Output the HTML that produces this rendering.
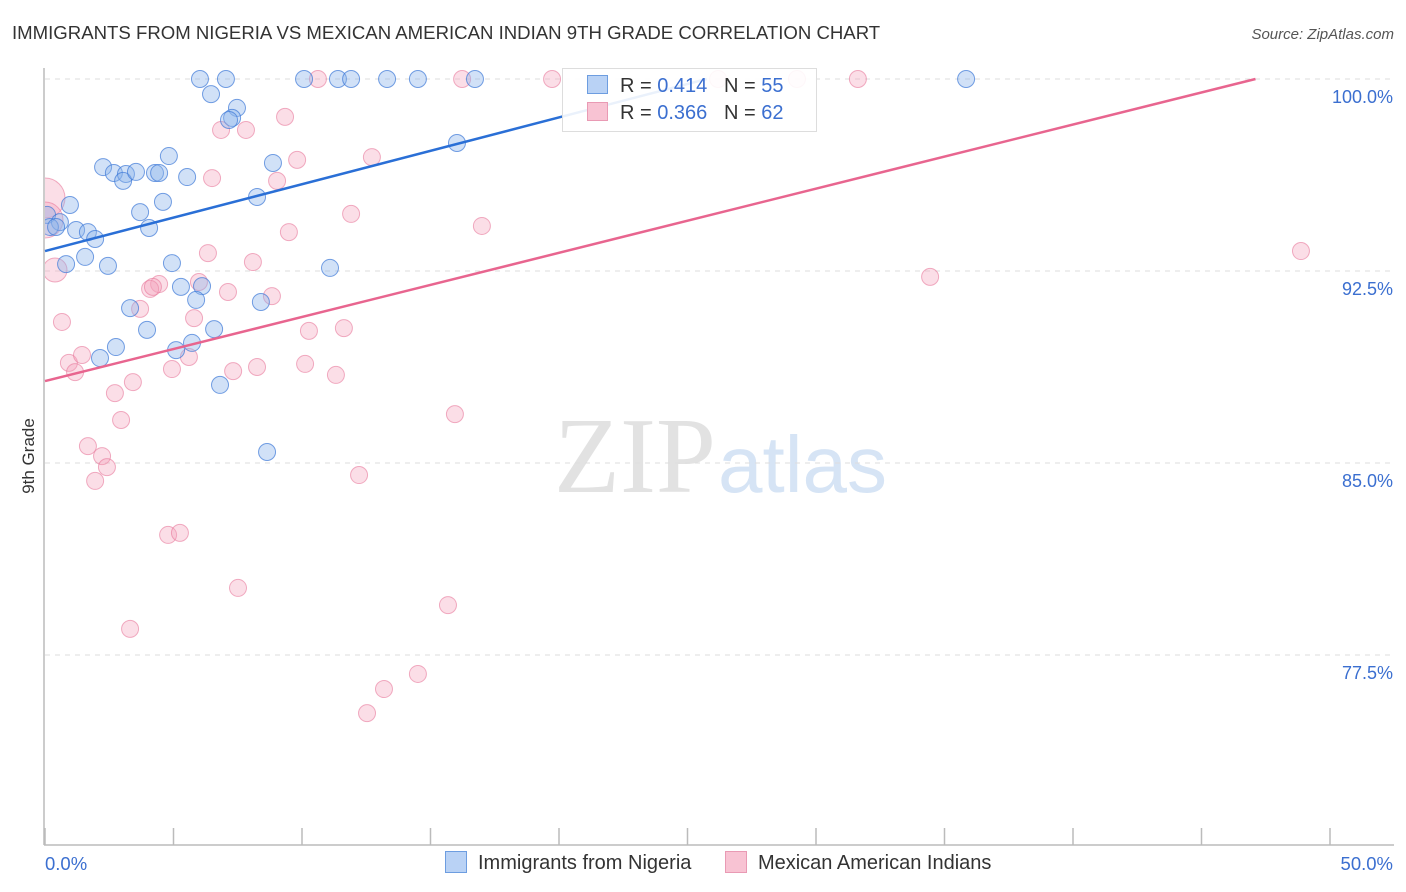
<!DOCTYPE html>
<html><head><meta charset="utf-8">
<style>
body{margin:0;background:#fff;font-family:"Liberation Sans",sans-serif;}
#c{position:relative;width:1406px;height:892px;overflow:hidden;}
</style></head>
<body>
<div id="c">
<svg id="s" width="1406" height="892" xmlns="http://www.w3.org/2000/svg">
<text x="12" y="39" font-size="18.6" fill="#333">IMMIGRANTS FROM NIGERIA VS MEXICAN AMERICAN INDIAN 9TH GRADE CORRELATION CHART</text>
<text x="1394" y="39" font-size="15" fill="#555" font-style="italic" text-anchor="end">Source: ZipAtlas.com</text>
<text x="716" y="492" font-size="108" fill="#e2e2e2" text-anchor="end" font-family="Liberation Serif">ZIP</text>
<text x="718" y="492" font-size="80" fill="#d6e4f5">atlas</text>
<text transform="translate(34,456) rotate(-90)" font-size="17" fill="#333" text-anchor="middle">9th Grade</text>
<g id="grid"></g>
<svg x="45" y="0" width="1361" height="845" viewBox="45 0 1361 845" overflow="hidden"><g id="pts"></g></svg>
<g id="lines"></g>
</svg>
</div>
<script>
const yTicks=[100,92.5,85,77.5];
const yTickLabels=["100.0%","92.5%","85.0%","77.5%"];
const nigX=[6.03,7.04,10.08,11.40,11.91,13.31,14.51,16.73,35.84,6.46,7.47,7.28,7.16,4.82,2.26,2.68,3.15,3.04,3.54,4.28,4.44,5.53,8.87,16.03,8.25,3.70,4.59,0.97,0.08,0.58,0.19,0.43,1.21,1.67,1.95,4.05,0.82,1.56,2.45,4.94,11.09,5.29,6.11,5.88,3.31,8.40,3.97,6.58,2.76,2.14,5.10,5.72,6.81,8.64];
const nigY=[100,100,100,100,100,100,100,100,100,99.41,98.87,98.48,98.40,96.99,96.56,96.33,96.29,96.02,96.37,96.33,96.33,96.17,96.72,97.50,95.39,94.80,95.20,95.08,94.69,94.41,94.22,94.22,94.10,94.02,93.75,94.18,92.77,93.05,92.70,92.81,92.62,91.88,91.91,91.37,91.05,91.29,90.20,90.23,89.53,89.10,89.41,89.69,88.05,85.43];
const mexX=[0,0,0.39,10.62,16.23,19.73,26.19,29.26,31.63,9.34,6.85,7.82,12.72,9.81,6.50,9.03,11.91,9.49,17.00,6.34,8.09,34.44,48.87,4.44,4.09,4.20,5.99,7.12,8.83,5.80,3.70,0.66,10.27,11.63,0.93,1.44,1.17,4.94,5.60,7.32,8.25,10.12,11.32,3.42,2.72,15.95,2.96,1.67,2.22,2.41,1.95,12.22,4.79,5.25,7.51,3.31,15.68,14.51,13.19,12.53];
const mexY=[95.35,94.49,92.54,100,100,100,100,100,100,98.52,98.01,98.01,96.95,96.84,96.13,96.02,94.73,94.02,94.26,93.20,92.85,92.27,93.28,91.99,91.80,91.88,92.07,91.68,91.52,90.66,91.02,90.51,90.16,90.27,88.91,89.22,88.55,88.67,89.14,88.59,88.75,88.87,88.44,88.16,87.73,86.91,86.68,85.66,85.27,84.84,84.30,84.53,82.19,82.27,80.12,78.52,79.45,76.76,76.17,75.23];
const mexR=[20,18,12];
const nigTrend=[[0,93.28],[20,98.5]];
const mexTrend=[[0,88.2],[47.1,100]];
const ns="http://www.w3.org/2000/svg";
const X=v=>45+v*25.7, Y=v=>79+(100-v)*25.6;
function mk(t,a,p){const e=document.createElementNS(ns,t);for(const k in a)e.setAttribute(k,a[k]);document.getElementById(p).appendChild(e);return e;}
let e=mk('line',{x1:44,y1:68,x2:44,y2:845,stroke:'#bbb','stroke-width':1.5},'grid');

e=mk('line',{x1:44,y1:845,x2:1394,y2:845,stroke:'#bbb','stroke-width':1.5},'grid');

for(let i=0;i<=10;i++){e=mk('line',{x1:X(i*5),x2:X(i*5),y1:828,y2:845,stroke:'#bbb','stroke-width':1.5},'grid');
}
yTicks.forEach((t,i)=>{e=mk('line',{x1:45,x2:1394,y1:Y(t),y2:Y(t),stroke:'#ddd','stroke-dasharray':'5,5'},'grid');

e=mk('text',{x:1393,y:Y(t)+24,'font-size':18,fill:'#3b6fd0','text-anchor':'end'},'grid');e.textContent=yTickLabels[i];
});
e=mk('text',{x:45,y:870,'font-size':18.5,fill:'#3b6fd0'},'grid');e.textContent='0.0%';

e=mk('text',{x:1393,y:870,'font-size':18.5,fill:'#3b6fd0','text-anchor':'end'},'grid');e.textContent='50.0%';

mexX.forEach((x,i)=>{e=mk('circle',{cx:X(x),cy:Y(mexY[i]),r:mexR[i]||8.5,fill:'rgba(244,160,185,0.35)',stroke:'rgba(232,120,155,0.6)','stroke-width':1},'pts');
});
nigX.forEach((x,i)=>{e=mk('circle',{cx:X(x),cy:Y(nigY[i]),r:8.5,fill:'rgba(140,180,235,0.4)',stroke:'rgba(60,120,215,0.7)','stroke-width':1},'pts');
});
const nm=(nigTrend[1][1]-nigTrend[0][1])/(nigTrend[1][0]-nigTrend[0][0]);
const nEnd=(100-nigTrend[0][1])/nm;
e=mk('line',{x1:X(0),y1:Y(nigTrend[0][1]),x2:X(nEnd),y2:Y(100),stroke:'#2a6fd6','stroke-width':2.5},'lines');

e=mk('line',{x1:X(mexTrend[0][0]),y1:Y(mexTrend[0][1]),x2:X(mexTrend[1][0]),y2:Y(mexTrend[1][1]),stroke:'#e8658f','stroke-width':2.5},'lines');

</script>
<div style="position:absolute;left:562px;top:68px;width:253px;height:62px;background:rgba(255,255,255,0.9);border:1px solid #ddd;font-size:20px;color:#333;">
 <div style="position:absolute;left:24px;top:6px;white-space:nowrap;"><span style="display:inline-block;width:19px;height:17px;background:#b9d2f5;border:1px solid #6d9de0;vertical-align:-2px;margin-right:12px"></span>R = <span style="color:#3b6fd0">0.414</span>&nbsp;&nbsp;&nbsp;N = <span style="color:#3b6fd0">55</span></div>
 <div style="position:absolute;left:24px;top:33px;white-space:nowrap;"><span style="display:inline-block;width:19px;height:17px;background:#f8c3d3;border:1px solid #e99ab4;vertical-align:-2px;margin-right:12px"></span>R = <span style="color:#3b6fd0">0.366</span>&nbsp;&nbsp;&nbsp;N = <span style="color:#3b6fd0">62</span></div>
</div>
<div style="position:absolute;left:445px;top:851px;font-size:20px;color:#333;white-space:nowrap;">
 <span><span style="display:inline-block;width:20px;height:20px;background:#b9d2f5;border:1px solid #6d9de0;vertical-align:-4px;margin-right:11px"></span>Immigrants from Nigeria</span>
 <span style="margin-left:28px"><span style="display:inline-block;width:20px;height:20px;background:#f8c3d3;border:1px solid #e99ab4;vertical-align:-4px;margin-right:11px"></span>Mexican American Indians</span>
</div>
</body></html>
